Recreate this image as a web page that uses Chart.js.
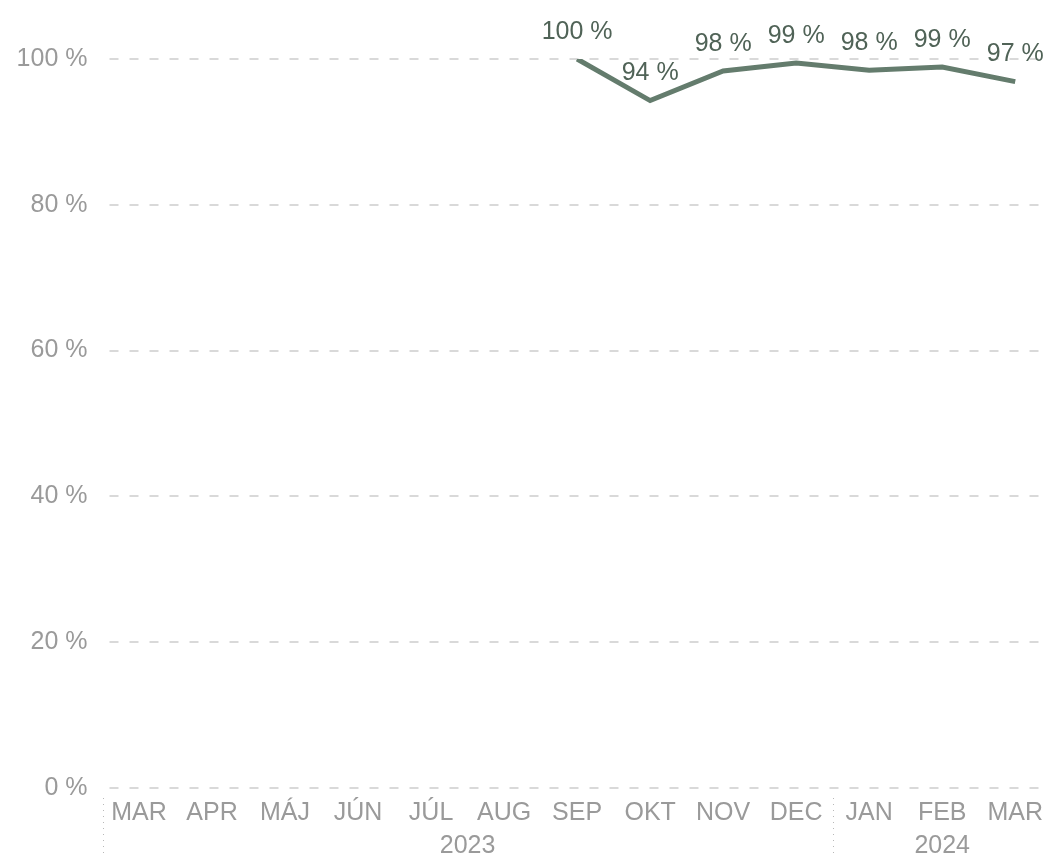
<!DOCTYPE html>
<html lang="sk">
<head>
<meta charset="UTF-8">
<script src="https://cdn.jsdelivr.net/npm/chart.js@4.4.1/dist/chart.umd.min.js"></script>
<title>Chart</title>
<style>
  html, body { margin: 0; padding: 0; background: #fff; overflow: hidden; }
  .wrap { width: 1050px; height: 856px; overflow: hidden; }
</style>
</head>
<body>
<div class="wrap">
  <canvas id="myChart" width="1053" height="856"></canvas>
</div>
<script>
// months (Mar 2023 - Mar 2024)
const months = ['MAR', 'APR', 'MÁJ', 'JÚN', 'JÚL', 'AUG', 'SEP', 'OKT', 'NOV', 'DEC', 'JAN', 'FEB', 'MAR'];
const values = [null, null, null, null, null, null, 100, 94.3, 98.35, 99.45, 98.45, 98.9, 96.9];
// year groups: label, first index, last index
const years = [
  { label: '2023', from: 0, to: 9 },
  { label: '2024', from: 10, to: 12 }
];

const lineColor = '#647c6d';
const labelColor = '#506357';
const axisColor = '#9a9a9a';
const fontFamily = '"Liberation Sans", Arial, sans-serif';

// dashed horizontal grid, drawn a bit inset like the original
const gridPlugin = {
  id: 'dashGrid',
  beforeDatasetsDraw(chart) {
    const ctx = chart.ctx;
    const y = chart.scales.y;
    const area = chart.chartArea;
    ctx.save();
    ctx.strokeStyle = '#d9d9d9';
    ctx.lineWidth = 2;
    ctx.setLineDash([9, 11]);
    y.ticks.forEach(t => {
      const py = Math.round(y.getPixelForValue(t.value));
      ctx.beginPath();
      ctx.moveTo(area.left + 7, py);
      ctx.lineTo(1042, py);
      ctx.stroke();
    });
    ctx.restore();
  }
};

// value labels above points
const valueLabels = {
  id: 'valueLabels',
  afterDatasetsDraw(chart) {
    const ctx = chart.ctx;
    const meta = chart.getDatasetMeta(0);
    ctx.save();
    ctx.font = '25px ' + fontFamily;
    ctx.fillStyle = labelColor;
    ctx.textAlign = 'center';
    ctx.textBaseline = 'middle';
    meta.data.forEach((pt, i) => {
      const v = values[i];
      if (v === null) return;
      ctx.fillText(Math.round(v) + ' %', pt.x, pt.y - 27);
    });
    ctx.restore();
  }
};

// year labels + dotted separators under month axis
const yearAxis = {
  id: 'yearAxis',
  afterDraw(chart) {
    const ctx = chart.ctx;
    const x = chart.scales.x;
    const half = (x.getPixelForValue(1) - x.getPixelForValue(0)) / 2;
    ctx.save();
    ctx.font = '25px ' + fontFamily;
    ctx.fillStyle = axisColor;
    ctx.textAlign = 'center';
    ctx.textBaseline = 'middle';
    years.forEach(g => {
      const cx = (x.getPixelForValue(g.from) + x.getPixelForValue(g.to)) / 2;
      ctx.fillText(g.label, cx, 846);
      const sx = Math.round(x.getPixelForValue(g.from) - half) + 0.5;
      ctx.strokeStyle = '#b8b8b8';
      ctx.lineWidth = 1;
      ctx.setLineDash([1, 5]);
      ctx.beginPath();
      ctx.moveTo(sx, 798);
      ctx.lineTo(sx, 856);
      ctx.stroke();
    });
    ctx.restore();
  }
};

const ctx = document.getElementById('myChart').getContext('2d');
const myChart = new Chart(ctx, {
  type: 'line',
  data: {
    labels: months,
    datasets: [{
      data: values,
      borderColor: lineColor,
      borderWidth: 5,
      pointRadius: 0,
      tension: 0,
      fill: false,
      spanGaps: false
    }]
  },
  options: {
    responsive: false,
    animation: false,
    layout: { padding: { top: 59, bottom: 18, left: 0, right: 0 } },
    plugins: {
      legend: { display: false },
      tooltip: { enabled: false }
    },
    scales: {
      x: {
        offset: true,
        grid: { display: false, drawTicks: false },
        border: { display: false },
        ticks: {
          color: axisColor,
          font: { family: fontFamily, size: 25 },
          padding: 10,
          maxRotation: 0,
          autoSkip: false
        }
      },
      y: {
        min: 0,
        max: 100,
        grid: { display: false, drawTicks: false },
        border: { display: false },
        afterFit(scale) { scale.width = 102.5; },
        ticks: {
          stepSize: 20,
          color: axisColor,
          padding: 15,
          font: { family: fontFamily, size: 25 },
          callback: v => v + ' %'
        }
      }
    }
  },
  plugins: [gridPlugin, valueLabels, yearAxis]
});
</script>
</body>
</html>
